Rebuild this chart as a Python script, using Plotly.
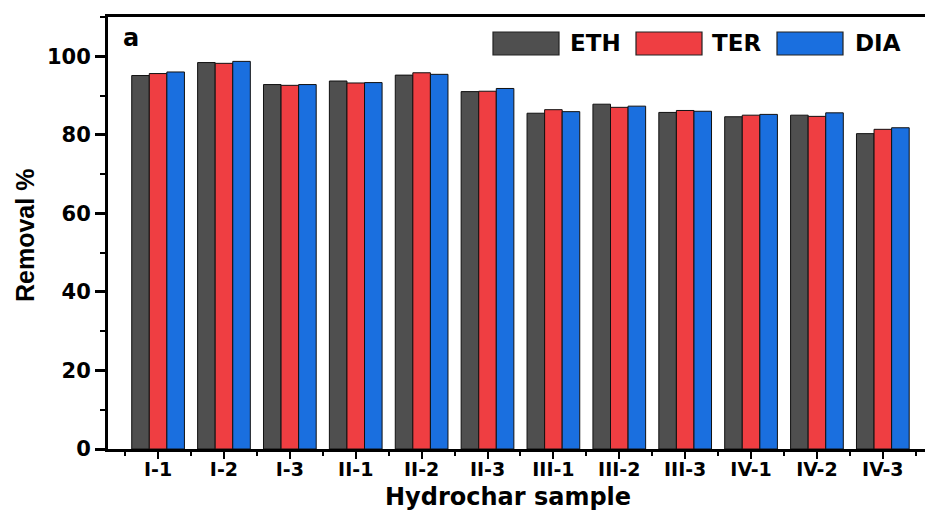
import plotly.graph_objects as go

categories = ["I-1", "I-2", "I-3", "II-1", "II-2", "II-3",
              "III-1", "III-2", "III-3", "IV-1", "IV-2", "IV-3"]
series_names = ["ETH", "TER", "DIA"]
eth = [95.1, 98.4, 92.8, 93.7, 95.2, 91.0, 85.5, 87.8, 85.7, 84.6, 85.0, 80.3]
ter = [95.6, 98.2, 92.6, 93.2, 95.8, 91.1, 86.4, 87.0, 86.2, 85.0, 84.7, 81.4]
dia = [96.0, 98.7, 92.8, 93.3, 95.4, 91.8, 85.9, 87.3, 86.0, 85.2, 85.6, 81.8]
colors = ["#4f4f4f", "#ef3e42", "#1a6fdf"]
y_ticks = [0, 20, 40, 60, 80, 100]
x_title = "Hydrochar sample"
y_title = "Removal %"

W, H = 925, 512
L, R, T, B = 108, 0, 17, 63
FONT = "DejaVu Sans"

xpos = list(range(len(categories)))
fig = go.Figure()
for name, vals, col in zip(series_names, [eth, ter, dia], colors):
    fig.add_trace(go.Bar(x=xpos, y=vals, name=name, marker=dict(color=col, line=dict(color="#111111", width=1)),
                         showlegend=False))

fig.update_layout(
    width=W, height=H, margin=dict(l=L, r=R, t=T, b=B),
    plot_bgcolor="white", paper_bgcolor="white",
    barmode="group", bargap=0.2, bargroupgap=0,
    font=dict(family=FONT, color="black", weight="bold"),
)
fig.update_xaxes(
    range=[-0.76, 11.64], tickmode="array", tickvals=xpos, ticktext=categories,
    showline=True, linecolor="black", linewidth=2.5, mirror=True,
    ticks="outside", ticklen=7, tickwidth=2, tickcolor="black",
    minor=dict(tickmode="linear", tick0=0.5, dtick=1, ticks="outside", ticklen=4, tickwidth=2, tickcolor="black"),
    tickfont=dict(family=FONT, size=19, weight="bold"),
    ticklabelstandoff=-6,
    showgrid=False, zeroline=False,
)
fig.update_yaxes(
    range=[0, 110], tickmode="array", tickvals=y_ticks,
    showline=True, linecolor="black", linewidth=3,
    ticks="outside", ticklen=10, tickwidth=2.5, tickcolor="black",
    minor=dict(tickmode="linear", tick0=10, dtick=20, ticks="outside", ticklen=5, tickwidth=2, tickcolor="black"),
    tickfont=dict(family=FONT, size=21, weight="bold"),
    showgrid=False, zeroline=False,
)

pw, ph = W - L - R, H - T - B
def px2x(px):
    return (px - L) / pw
def py2y(py):
    return (H - B - py) / ph

# axis titles
fig.add_annotation(xref="paper", yref="paper", x=px2x(508), y=py2y(497), text=x_title,
                   showarrow=False, xanchor="center", yanchor="middle",
                   font=dict(family=FONT, size=24, weight="bold", color="black"))
fig.add_annotation(xref="paper", yref="paper", x=px2x(25), y=py2y(236), text=y_title, textangle=-90,
                   showarrow=False, xanchor="center", yanchor="middle",
                   font=dict(family="Liberation Sans", size=25, weight="bold", color="black"))

# legend drawn as shapes + text
sw_left = [493, 636, 777]
txt_left = [568, 710, 853]
for name, col, sx, tx in zip(series_names, colors, sw_left, txt_left):
    fig.add_shape(type="rect", xref="paper", yref="paper",
                  x0=px2x(sx), x1=px2x(sx + 66), y0=py2y(55), y1=py2y(32),
                  fillcolor=col, line=dict(color="#222222", width=1.2))
    fig.add_annotation(xref="paper", yref="paper", x=px2x(tx), y=py2y(43.5), text=name,
                       showarrow=False, xanchor="left", yanchor="middle",
                       font=dict(family=FONT, size=23, weight="bold", color="black"))

fig.add_annotation(xref="paper", yref="paper", x=px2x(121), y=py2y(38), text="a",
                   showarrow=False, xanchor="left", yanchor="middle",
                   font=dict(family=FONT, size=24, weight="bold", color="black"))

fig.write_html("out.html")
